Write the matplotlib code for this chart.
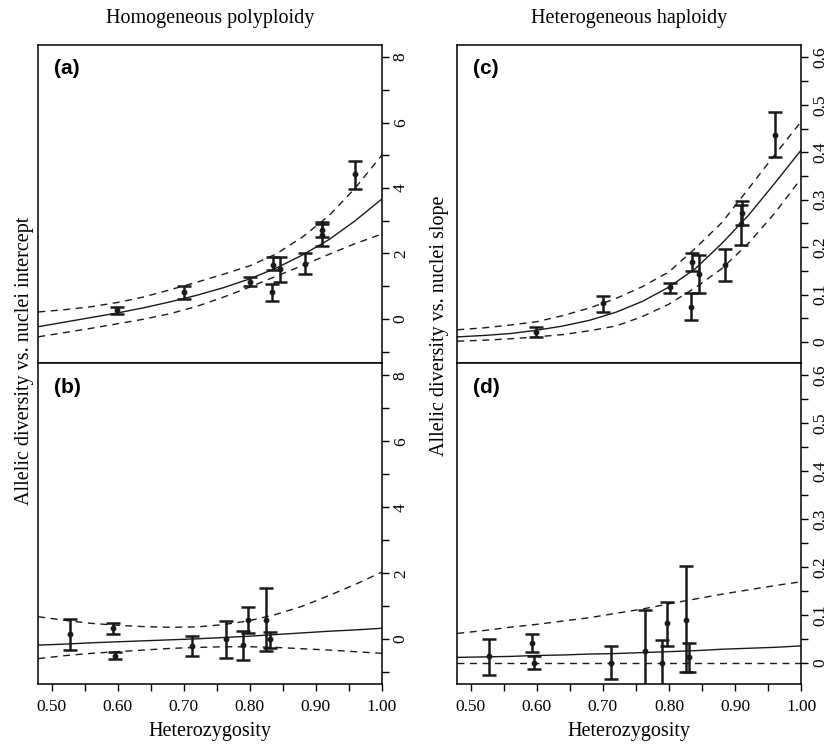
import matplotlib
matplotlib.use('Agg')
import matplotlib.pyplot as plt
import numpy as np

# data points (heterozygosity, estimate, lower, upper)
x_ac = [0.599, 0.700, 0.801, 0.834, 0.835, 0.846, 0.884, 0.909, 0.910, 0.960]
a_y = [0.26, 0.81, 1.13, 0.81, 1.65, 1.52, 1.68, 2.55, 2.72, 4.42]
a_lo = [0.16, 0.62, 0.99, 0.54, 1.48, 1.13, 1.37, 2.23, 2.50, 3.96]
a_hi = [0.37, 0.99, 1.27, 1.075, 1.88, 1.88, 2.01, 2.90, 2.97, 4.83]

c_y = [0.021, 0.082, 0.116, 0.075, 0.168, 0.144, 0.163, 0.248, 0.272, 0.436]
c_lo = [0.011, 0.064, 0.103, 0.047, 0.149, 0.104, 0.129, 0.205, 0.247, 0.389]
c_hi = [0.031, 0.098, 0.125, 0.103, 0.187, 0.184, 0.196, 0.289, 0.297, 0.484]

x_bd = [0.528, 0.593, 0.596, 0.713, 0.764, 0.790, 0.797, 0.825, 0.831]
b_y = [0.15, 0.33, -0.50, -0.20, -0.01, -0.19, 0.57, 0.59, -0.01]
b_lo = [-0.32, 0.15, -0.59, -0.51, -0.57, -0.63, 0.18, -0.37, -0.26]
b_hi = [0.61, 0.49, -0.40, 0.10, 0.54, 0.24, 0.97, 1.55, 0.23]

d_y = [0.013, 0.042, 0.000, 0.000, 0.025, 0.000, 0.082, 0.089, 0.011]
d_lo = [-0.025, 0.023, -0.014, -0.035, -0.08, -0.08, 0.034, -0.020, -0.019]
d_hi = [0.049, 0.060, 0.013, 0.035, 0.111, 0.048, 0.126, 0.201, 0.042]

# fitted curves and their bands
fit_x = [0.48, 0.52, 0.56, 0.60, 0.64, 0.68, 0.72, 0.76, 0.80, 0.84, 0.88, 0.92, 0.96, 1.00]
a_fit = [-0.24, -0.10, 0.04, 0.18, 0.34, 0.52, 0.72, 0.95, 1.22, 1.55, 1.95, 2.42, 3.00, 3.66]
a_fit_hi = [0.21, 0.28, 0.37, 0.50, 0.67, 0.89, 1.12, 1.36, 1.62, 1.98, 2.50, 3.15, 4.00, 5.00]
a_fit_lo = [-0.55, -0.42, -0.29, -0.15, -0.01, 0.16, 0.38, 0.66, 0.97, 1.30, 1.63, 1.97, 2.30, 2.59]

b_fit = [-0.18, -0.15, -0.11, -0.08, -0.05, -0.02, 0.01, 0.05, 0.09, 0.14, 0.19, 0.24, 0.28, 0.33]
b_fit_hi = [0.68, 0.57, 0.48, 0.42, 0.38, 0.36, 0.37, 0.44, 0.56, 0.75, 1.00, 1.32, 1.66, 2.03]
b_fit_lo = [-0.59, -0.50, -0.43, -0.38, -0.33, -0.28, -0.25, -0.23, -0.23, -0.25, -0.29, -0.33, -0.38, -0.43]

c_fit = [0.011, 0.014, 0.018, 0.025, 0.034, 0.046, 0.063, 0.086, 0.116, 0.155, 0.208, 0.267, 0.335, 0.405]
c_fit_hi = [0.026, 0.030, 0.036, 0.043, 0.056, 0.072, 0.092, 0.117, 0.148, 0.198, 0.252, 0.323, 0.395, 0.465]
c_fit_lo = [0.002, 0.004, 0.007, 0.011, 0.016, 0.024, 0.034, 0.054, 0.080, 0.115, 0.155, 0.208, 0.272, 0.345]

d_fit = [0.011, 0.012, 0.013, 0.015, 0.016, 0.018, 0.019, 0.021, 0.023, 0.025, 0.028, 0.030, 0.032, 0.035]
d_fit_hi = [0.061, 0.067, 0.074, 0.080, 0.087, 0.094, 0.103, 0.112, 0.123, 0.133, 0.143, 0.152, 0.161, 0.169]
d_fit_lo = [0.0] * 14

plt.rcParams['font.family'] = ['Liberation Serif', 'DejaVu Serif']

fig = plt.figure(figsize=(8.28, 7.44), dpi=100)
W, H = 828, 744


def make_ax(l, r, t, b):
    return fig.add_axes([l / W, 1 - b / H, (r - l) / W, (b - t) / H])


ax_a = make_ax(38.3, 381.7, 45, 363)
ax_b = make_ax(38.3, 381.7, 363, 683.7)
ax_c = make_ax(457.3, 801.3, 45, 363)
ax_d = make_ax(457.3, 801.3, 363, 683.7)


def draw(ax, x, y, lo, hi, fit, fit_lo, fit_hi, label):
    y = np.array(y)
    err = [y - np.array(lo), np.array(hi) - y]
    ax.errorbar(x, y, yerr=err, fmt='o', color='#1a1a1a', ms=3.2,
                elinewidth=1.8, capsize=4.8, capthick=1.8, zorder=3)
    ax.plot(fit_x, fit, color='#1a1a1a', lw=1.0)
    ax.plot(fit_x, fit_lo, color='#1a1a1a', lw=1.0, ls=(0, (5, 4)))
    ax.plot(fit_x, fit_hi, color='#1a1a1a', lw=1.0, ls=(0, (5, 4)))
    ax.set_xlim(0.48, 1.0)
    ax.text(0.045, 0.925, label, transform=ax.transAxes, fontsize=15,
            fontweight='bold', family='Liberation Sans', va='center')
    ax.yaxis.tick_right()
    ax.tick_params(axis='y', direction='out', length=5, width=1, pad=3,
                   labelsize=12.5, labelrotation=90)
    for sp in ax.spines.values():
        sp.set_linewidth(1.1)


draw(ax_a, x_ac, a_y, a_lo, a_hi, a_fit, a_fit_lo, a_fit_hi, '(a)')
draw(ax_b, x_bd, b_y, b_lo, b_hi, b_fit, b_fit_lo, b_fit_hi, '(b)')
draw(ax_c, x_ac, c_y, c_lo, c_hi, c_fit, c_fit_lo, c_fit_hi, '(c)')
draw(ax_d, x_bd, d_y, d_lo, d_hi, d_fit, d_fit_lo, d_fit_hi, '(d)')

left_ticks = list(range(-1, 9))
left_labels = [str(t) if t >= 0 and t % 2 == 0 else '' for t in left_ticks]
right_ticks = [round(0.05 * i, 2) for i in range(13)]
right_labels = [('0' if t == 0 else '%.1f' % t) if i % 2 == 0 else ''
                for i, t in enumerate(right_ticks)]

for ax in (ax_a, ax_b):
    ax.set_ylim(-1.35, 8.37)
    ax.set_yticks(left_ticks)
    ax.set_yticklabels(left_labels, rotation=90, va='center')
for ax in (ax_c, ax_d):
    ax.set_ylim(-0.044, 0.626)
    ax.set_yticks(right_ticks)
    ax.set_yticklabels(right_labels, rotation=90, va='center')

x_ticks = [round(0.5 + 0.05 * i, 2) for i in range(11)]
x_labels = ['%.2f' % t if i % 2 == 0 else '' for i, t in enumerate(x_ticks)]
for ax in (ax_a, ax_c):
    ax.set_xticks([])
for ax in (ax_b, ax_d):
    ax.set_xticks(x_ticks)
    ax.set_xticklabels(x_labels)
    ax.tick_params(axis='x', direction='out', length=5, width=1, pad=6,
                   labelsize=12.5)
    ax.set_xlabel('Heterozygosity', fontsize=14.5, labelpad=5)

fig.text(210 / W, 1 - 18 / H, 'Homogeneous polyploidy', fontsize=14.5,
         ha='center', va='center')
fig.text(629 / W, 1 - 18 / H, 'Heterogeneous haploidy', fontsize=14.5,
         ha='center', va='center')
fig.text(25 / W, 1 - 361 / H, 'Allelic diversity vs. nuclei intercept',
         fontsize=14.5, rotation=90, ha='center', va='center')
fig.text(440 / W, 1 - 326 / H, 'Allelic diversity vs. nuclei slope',
         fontsize=14.5, rotation=90, ha='center', va='center')

plt.savefig('out.png', dpi=100)
